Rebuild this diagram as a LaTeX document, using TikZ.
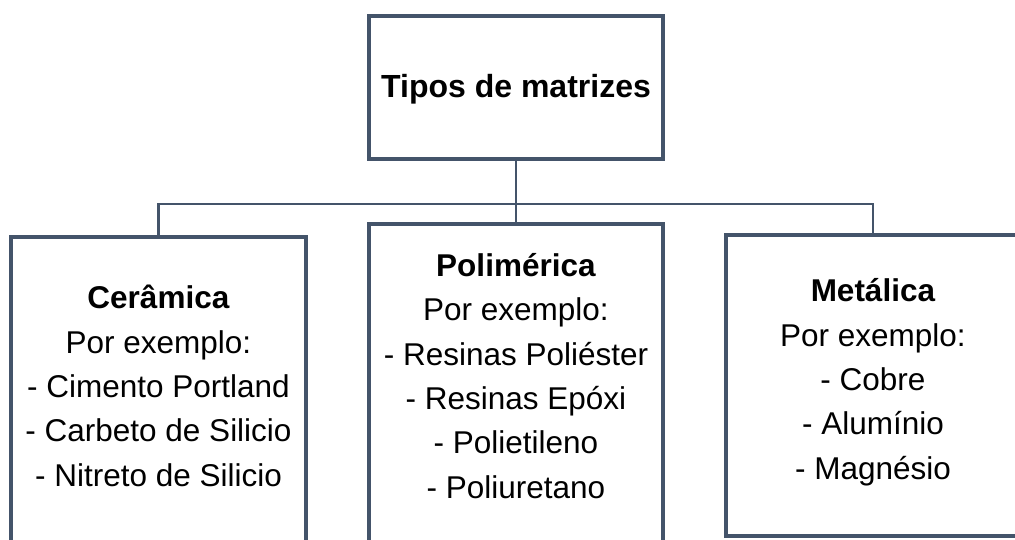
\documentclass[tikz,border=0pt]{standalone}
\usepackage{fontspec}
\setmainfont{Liberation Sans}
\definecolor{edge}{HTML}{44546A}
\begin{document}
\begin{tikzpicture}[x=1pt,y=-1pt,
  box/.style={draw=edge, line width=4pt, rectangle, inner sep=0pt, fill=white},
  conn/.style={draw=edge, line width=2.2pt},
  txt/.style={align=center, inner sep=0pt, font=\fontsize{31.5}{44.3}\selectfont, text=black}]
\useasboundingbox (0,0) rectangle (1015,539);
\clip (0,0) rectangle (1015,539);
\node[box, minimum width=294pt, minimum height=143pt, anchor=north] (top) at (516,14) {};
\node[box, minimum width=295pt, minimum height=365pt, anchor=north] (cer) at (158.5,235) {};
\node[box, minimum width=294pt, minimum height=365pt, anchor=north] (pol) at (516,222) {};
\node[box, minimum width=294pt, minimum height=301pt, anchor=north] (met) at (873,233) {};
\coordinate (j) at (516,204);
\draw[conn] (top.south) -- (pol.north);
\draw[conn] (cer.north) -- (cer.north |- j) -- (met.north |- j) -- (met.north);
\node[txt, anchor=base, font=\fontsize{32}{40}\selectfont\bfseries] (ttop) at (516,97) {Tipos de matrizes};
\node[txt, anchor=base] (tcer) at (158.5,486) {\textbf{Cerâmica}\\Por exemplo:\\- Cimento Portland\\- Carbeto de Silicio\\- Nitreto de Silicio};
\node[txt, anchor=base] (tpol) at (516,498) {\textbf{Polimérica}\\Por exemplo:\\- Resinas Poliéster\\- Resinas Epóxi\\- Polietileno\\- Poliuretano};
\node[txt, anchor=base] (tmet) at (873,479) {\textbf{Metálica}\\Por exemplo:\\- Cobre\\- Alumínio\\- Magnésio};
\end{tikzpicture}
\end{document}
